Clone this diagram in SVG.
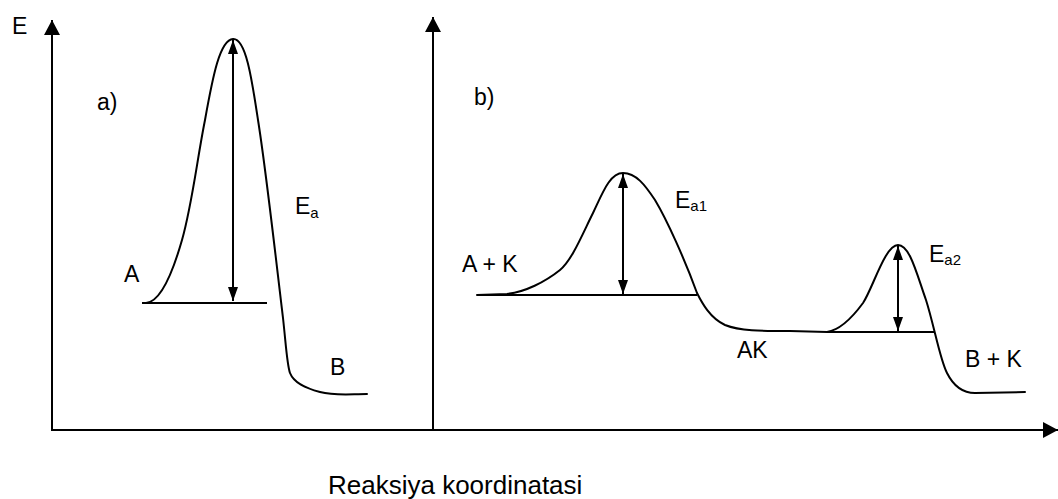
<svg xmlns="http://www.w3.org/2000/svg" width="1058" height="499" viewBox="0 0 1058 499">
<style>
  .ax { stroke:#000; stroke-width:2; fill:none; }
  .cv { stroke:#000; stroke-width:2; fill:none; stroke-linejoin:round; stroke-linecap:round; }
  .lv { stroke:#000; stroke-width:2; fill:none; }
  .ar { stroke:#000; stroke-width:2; fill:none; marker-start:url(#head); marker-end:url(#head); }
  .lbl { font-family:"Liberation Sans", Arial, sans-serif; font-size:23px; fill:#000; }
  .sub { font-size:15px; }
</style>
<defs>
  <marker id="head" viewBox="0 0 14 10" refX="14" refY="5" markerWidth="14" markerHeight="10" markerUnits="userSpaceOnUse" orient="auto-start-reverse">
    <path d="M0,0 L14,5 L0,10 z" fill="#000"/>
  </marker>
  <marker id="axhead" viewBox="0 0 15 16" refX="15" refY="8" markerWidth="15" markerHeight="16" markerUnits="userSpaceOnUse" orient="auto">
    <path d="M0,0 L15,8 L0,16 z" fill="#000"/>
  </marker>
</defs>
<g id="axes">
  <line class="ax" x1="52" y1="430" x2="52" y2="20" marker-end="url(#axhead)"/>
  <line class="ax" x1="433" y1="430" x2="433" y2="17" marker-end="url(#axhead)"/>
  <line class="ax" x1="51" y1="430" x2="1058" y2="430" marker-end="url(#axhead)"/>
</g>
<g id="panel-a">
  <path class="cv" d="M 146 303 C 160 302, 172 275, 182 240 C 192 205, 197 160, 205 120 C 213 75, 220 40, 233 39 C 246 38, 252 80, 258 120 C 266 170, 276 260, 283 318 C 286 345, 287 365, 290 373 C 294 383, 305 388, 320 392 C 335 396, 350 394, 367 394"/>
  <line class="lv" x1="142" y1="303" x2="267" y2="303"/>
  <line class="ar" x1="233" y1="40" x2="233" y2="301"/>
</g>
<g id="panel-b">
  <path class="cv" d="M 477 295 L 507 294 C 525 292, 545 282, 560 270 C 572 260, 582 235, 593 213 C 603 192, 610 173, 623 173 C 636 173, 645 185, 655 200 C 667 220, 685 260, 697 293 C 702 303, 710 318, 725 325 C 740 331, 760 331, 790 331 L 827 332 C 840 330, 852 318, 863 303 C 873 288, 885 245, 898 245 C 910 245, 917 275, 926 300 C 934 325, 940 360, 947 373 C 953 385, 962 393, 975 393 L 1025 392"/>
  <line class="lv" x1="477" y1="295" x2="697" y2="295"/>
  <line class="lv" x1="827" y1="332" x2="935" y2="332"/>
  <line class="ar" x1="623" y1="174" x2="623" y2="294"/>
  <line class="ar" x1="898" y1="246" x2="898" y2="331"/>
</g>
<g id="labels">
  <text class="lbl" x="12" y="34">E</text>
  <text class="lbl" x="97" y="110">a)</text>
  <text class="lbl" x="124" y="282">A</text>
  <text class="lbl" x="295" y="214">E<tspan class="sub" dy="4">a</tspan></text>
  <text class="lbl" x="330" y="375">B</text>
  <text class="lbl" x="474" y="105">b)</text>
  <text class="lbl" x="462" y="272">A + K</text>
  <text class="lbl" x="675" y="208">E<tspan class="sub" dy="3">a1</tspan></text>
  <text class="lbl" x="737" y="358">AK</text>
  <text class="lbl" x="929" y="262">E<tspan class="sub" dy="3">a2</tspan></text>
  <text class="lbl" x="965" y="367">B + K</text>
  <text class="lbl" x="328" y="494" style="font-size:26px">Reaksiya koordinatasi</text>
</g>
</svg>
